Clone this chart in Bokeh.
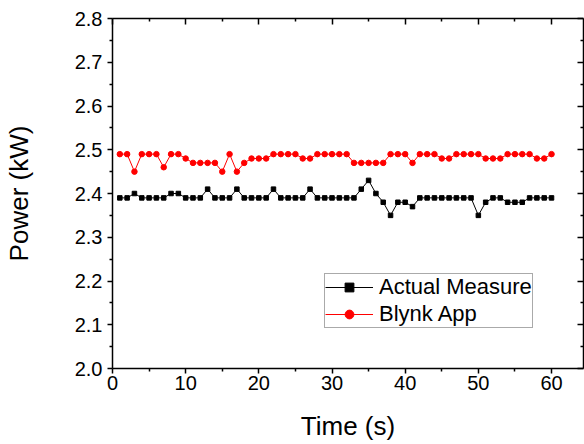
from bokeh.plotting import figure
from bokeh.models import (LinearAxis, FixedTicker, Legend, LegendItem,
                          ColumnDataSource, PrintfTickFormatter, CustomLabelingPolicy)
from bokeh.embed import file_html
from bokeh.resources import INLINE

# ---- data ----
time_s = [1, 2, 3, 4, 5, 6, 7, 8, 9, 10, 11, 12, 13, 14, 15, 16, 17, 18, 19, 20,
          21, 22, 23, 24, 25, 26, 27, 28, 29, 30, 31, 32, 33, 34, 35, 36, 37, 38, 39, 40,
          41, 42, 43, 44, 45, 46, 47, 48, 49, 50, 51, 52, 53, 54, 55, 56, 57, 58, 59, 60]
actual_measure = [2.39, 2.39, 2.40, 2.39, 2.39, 2.39, 2.39, 2.40, 2.40, 2.39,
                  2.39, 2.39, 2.41, 2.39, 2.39, 2.39, 2.41, 2.39, 2.39, 2.39,
                  2.39, 2.41, 2.39, 2.39, 2.39, 2.39, 2.41, 2.39, 2.39, 2.39,
                  2.39, 2.39, 2.39, 2.41, 2.43, 2.40, 2.38, 2.35, 2.38, 2.38,
                  2.37, 2.39, 2.39, 2.39, 2.39, 2.39, 2.39, 2.39, 2.39, 2.35,
                  2.38, 2.39, 2.39, 2.38, 2.38, 2.38, 2.39, 2.39, 2.39, 2.39]
blynk_app = [2.49, 2.49, 2.45, 2.49, 2.49, 2.49, 2.46, 2.49, 2.49, 2.48,
             2.47, 2.47, 2.47, 2.47, 2.45, 2.49, 2.45, 2.47, 2.48, 2.48,
             2.48, 2.49, 2.49, 2.49, 2.49, 2.48, 2.48, 2.49, 2.49, 2.49,
             2.49, 2.49, 2.47, 2.47, 2.47, 2.47, 2.47, 2.49, 2.49, 2.49,
             2.47, 2.49, 2.49, 2.49, 2.48, 2.48, 2.49, 2.49, 2.49, 2.49,
             2.48, 2.48, 2.48, 2.49, 2.49, 2.49, 2.49, 2.48, 2.48, 2.49]
series_names = ["Actual Measure", "Blynk App"]
x_label = "Time (s)"
y_label = "Power (kW)"
x_ticks = [0, 10, 20, 30, 40, 50, 60]
x_minor_ticks = [5, 15, 25, 35, 45, 55, 65]
y_ticks = [2.0, 2.1, 2.2, 2.3, 2.4, 2.5, 2.6, 2.7, 2.8]
y_minor_ticks = [2.05, 2.15, 2.25, 2.35, 2.45, 2.55, 2.65, 2.75]

FONT = "Liberation Sans"

p = figure(frame_width=471, frame_height=350, output_backend="svg", toolbar_location=None,
           x_range=(0, 64.37), y_range=(2.0, 2.8),
           min_border_left=110, min_border_top=18, min_border_right=0, min_border_bottom=0,
           x_axis_location=None, y_axis_location=None)
p.xgrid.visible = False
p.ygrid.visible = False
p.outline_line_color = None
p.background_fill_color = "white"
p.border_fill_color = "white"

def mk_axis(kind, out, labels):
    if kind == "x":
        tk = FixedTicker(ticks=x_ticks, minor_ticks=x_minor_ticks)
    else:
        tk = FixedTicker(ticks=y_ticks, minor_ticks=y_minor_ticks)
    ax = LinearAxis(ticker=tk)
    ax.axis_line_color = "black"
    ax.axis_line_width = 1.5
    ax.major_tick_line_width = 1.5
    ax.minor_tick_line_width = 1.5
    ax.major_tick_line_color = "black"
    ax.minor_tick_line_color = "black"
    if out:
        ax.major_tick_out = 5
        ax.major_tick_in = 0
        ax.minor_tick_out = 3
        ax.minor_tick_in = 0
    else:
        ax.major_tick_out = 0
        ax.major_tick_in = 6
        ax.minor_tick_out = 0
        ax.minor_tick_in = 3
    if labels:
        ax.major_label_text_font = FONT
        ax.major_label_text_font_size = "20px"
        ax.major_label_text_color = "black"
        ax.axis_label_text_font = FONT
        ax.axis_label_text_font_size = "26px"
        ax.axis_label_text_font_style = "normal"
        ax.axis_label_text_color = "black"
        if kind == "y":
            ax.formatter = PrintfTickFormatter(format="%.1f")
    else:
        ax.major_label_text_font_size = "1px"
        ax.major_label_standoff = 0
        ax.major_label_policy = CustomLabelingPolicy(code="return []")
    return ax

bottom = mk_axis("x", True, True)
bottom.axis_label = x_label
bottom.major_label_standoff = 2
bottom.axis_label_standoff = 18
left = mk_axis("y", True, True)
left.axis_label = y_label
left.major_label_standoff = 5
left.axis_label_standoff = 38
top = mk_axis("x", False, False)
right = mk_axis("y", False, False)
p.add_layout(bottom, "below")
p.add_layout(left, "left")
p.add_layout(top, "above")
p.add_layout(right, "right")

src = ColumnDataSource(dict(t=time_s, a=actual_measure, b=blynk_app))
l1 = p.line("t", "a", source=src, line_color="black", line_width=1)
m1 = p.scatter("t", "a", source=src, marker="square", size=4.5, fill_color="black", line_color="black")
l2 = p.line("t", "b", source=src, line_color="#ff0000", line_width=1)
m2 = p.scatter("t", "b", source=src, marker="circle", size=5.5, fill_color="#ff0000", line_color="#ff0000")

legend = Legend(items=[LegendItem(label=series_names[0], renderers=[l1, m1]),
                       LegendItem(label=series_names[1], renderers=[l2, m2])],
                location=(212, 40))
legend.label_text_font = FONT
legend.label_text_font_size = "22px"
legend.label_text_color = "black"
legend.glyph_width = 48
legend.glyph_height = 22
legend.label_height = 22
legend.label_standoff = 6
legend.spacing = 1
legend.padding = 0
legend.margin = 0
legend.border_line_color = "#555555"
legend.border_line_width = 1.5
legend.background_fill_alpha = 1
p.add_layout(legend, "center")

open("out.html", "w").write(file_html(p, INLINE))
